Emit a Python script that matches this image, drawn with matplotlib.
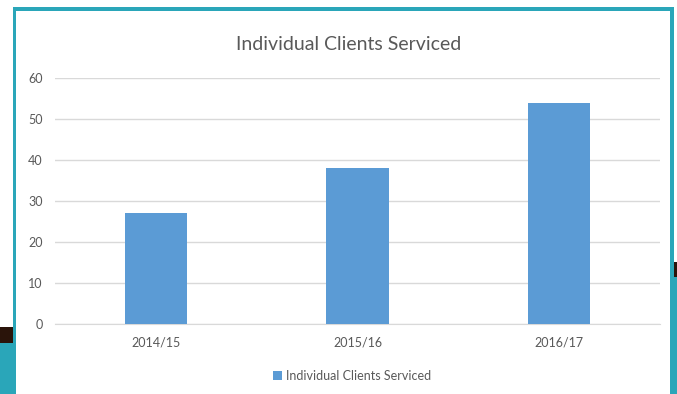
import matplotlib
matplotlib.use("Agg")
import matplotlib.pyplot as plt
from matplotlib.patches import Rectangle

seasons = ["2014/15", "2015/16", "2016/17"]
clients = [27, 38, 54]
series_name = "Individual Clients Serviced"
chart_title = "Individual Clients Serviced"

W, H = 677, 394
plt.rcParams["font.family"] = ["Lato", "DejaVu Sans"]

fig = plt.figure(figsize=(W / 100, H / 100), dpi=100)
fig.patch.set_facecolor("white")

teal = "#2AA6B9"
dark = "#2A140A"


def px_rect(x0, y0, x1, y1, color, z=0):
    """Rectangle in pixel coordinates (origin at top-left)."""
    fig.patches.append(Rectangle((x0 / W, 1 - y1 / H), (x1 - x0) / W, (y1 - y0) / H,
                                 transform=fig.transFigure, facecolor=color,
                                 edgecolor="none", zorder=z))


# slide background shapes around the chart frame
px_rect(0, 327, 14, 343, dark)
px_rect(0, 343, 16, 394, teal)
px_rect(672, 262, 677, 277, dark)
px_rect(671, 277, 677, 394, teal)
# chart frame
px_rect(12.5, 7, 16, 394, teal)
px_rect(12.5, 7, 674, 11, teal)
px_rect(670, 7, 674, 394, teal)

ax = fig.add_axes([55 / W, 1 - 324 / H, (660 - 55) / W, (324 - 78) / H])
ax.set_facecolor("none")
x = range(len(seasons))
ax.bar(x, clients, width=0.31, color="#5B9BD5", zorder=3, label=series_name)
ax.set_xlim(-0.5, len(seasons) - 0.5)
ax.set_ylim(0, 60)
ax.set_yticks(range(0, 61, 10))
ax.set_xticks(list(x))
ax.set_xticklabels(seasons)
ax.grid(axis="y", color="#D9D9D9", linewidth=1, zorder=0)
for s in ["top", "right", "left"]:
    ax.spines[s].set_visible(False)
ax.spines["bottom"].set_color("#D9D9D9")
ax.tick_params(axis="both", length=0, labelsize=9, colors="#595959")
ax.tick_params(axis="y", pad=9)
ax.tick_params(axis="x", pad=9)

fig.text(349 / W, 1 - 44 / H, chart_title, ha="center", va="center",
         fontsize=14, color="#595959")

leg = fig.legend(loc="center", bbox_to_anchor=(352 / W, 1 - 376 / H), frameon=False,
                 fontsize=9, handlelength=0.7, handleheight=0.7, handletextpad=0.3)
for t in leg.get_texts():
    t.set_color("#595959")

fig.savefig("out.png", dpi=100)
